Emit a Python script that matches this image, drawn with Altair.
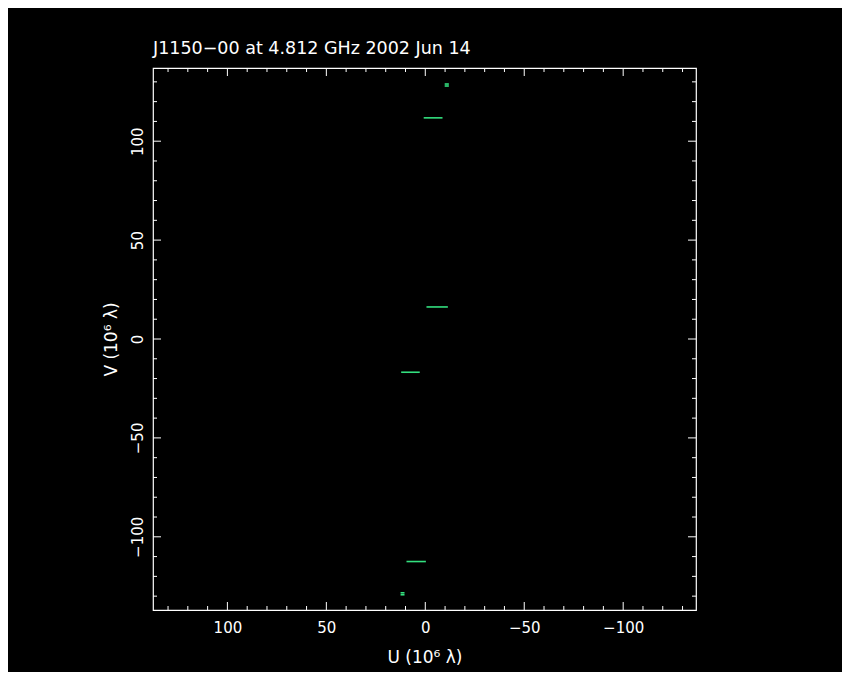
import altair as alt
import pandas as pd

# ---- data ----
title_text = "J1150\u221200 at 4.812 GHz 2002 Jun 14"
u_start = [-9.8, -9.8, 0.8, -0.6, 12.2, 9.5, 12.5, 12.5]
u_end = [-11.9, -11.9, -8.7, -11.4, 2.8, -0.3, 10.5, 10.5]
v_vals = [128.9, 127.9, 111.8, 16.2, -16.8, -112.5, -128.3, -129.3]

x_major = [100, 50, 0, -50, -100]
y_major = [-100, -50, 0, 50, 100]
minor_vals = [v for v in range(-130, 131, 10) if v % 50 != 0]

x_domain = [137.6, -136.8]
y_domain = [-137.0, 137.0]

W, H = 543, 542
FONT = "DejaVu Sans"
GREEN = "#33e07f"
MAJ, MIN = 8, 4

seg = pd.DataFrame({"u": u_start, "u2": u_end, "v": v_vals})
xmaj = pd.DataFrame({"t": x_major})
ymaj = pd.DataFrame({"t": y_major})
mins = pd.DataFrame({"t": minor_vals})

xs = alt.Scale(domain=x_domain, nice=False, zero=False)
ys = alt.Scale(domain=y_domain, nice=False, zero=False)

x_axis = alt.Axis(
    values=x_major, ticks=False, domain=False, grid=False,
    labelColor="white", labelFont=FONT, labelFontSize=15, labelPadding=10,
    title="U (10\u2076 \u03bb)", titleColor="white", titleFont=FONT,
    titleFontSize=17, titleFontWeight="normal", titlePadding=14,
)
y_axis = alt.Axis(
    values=y_major, ticks=False, domain=False, grid=False,
    labelColor="white", labelFont=FONT, labelFontSize=15, labelPadding=8,
    labelAngle=270, labelAlign="center", labelBaseline="bottom",
    title="V (10\u2076 \u03bb)", titleColor="white", titleFont=FONT,
    titleFontSize=17, titleFontWeight="normal", titlePadding=10,
)

segments = alt.Chart(seg).mark_rule(color=GREEN, strokeWidth=1.6).encode(
    x=alt.X("u:Q", scale=xs, axis=x_axis),
    x2="u2:Q",
    y=alt.Y("v:Q", scale=ys, axis=y_axis),
)

def xticks(df, length):
    base = alt.Chart(df).mark_rule(color="white", strokeWidth=1)
    bottom = base.encode(x=alt.X("t:Q", scale=xs), y=alt.value(H), y2=alt.value(H - length))
    top = base.encode(x=alt.X("t:Q", scale=xs), y=alt.value(0), y2=alt.value(length))
    return [bottom, top]

def yticks(df, length):
    base = alt.Chart(df).mark_rule(color="white", strokeWidth=1)
    left = base.encode(y=alt.Y("t:Q", scale=ys), x=alt.value(0), x2=alt.value(length))
    right = base.encode(y=alt.Y("t:Q", scale=ys), x=alt.value(W), x2=alt.value(W - length))
    return [left, right]

layers = [segments] + xticks(xmaj, MAJ) + xticks(mins, MIN) + yticks(ymaj, MAJ) + yticks(mins, MIN)

chart = alt.layer(*layers).properties(
    width=W, height=H,
    title=alt.TitleParams(title_text, anchor="start", frame="group", color="white",
                          font=FONT, fontSize=17.5, fontWeight="normal", offset=10),
    autosize=alt.AutoSizeParams(type="none"),
    padding={"left": 145, "top": 60, "right": 146, "bottom": 62},
    background="black",
).configure_view(stroke="white", strokeWidth=1.2, fill="black")

chart.save("out.html", embed_options={"renderer": "svg", "actions": False})
